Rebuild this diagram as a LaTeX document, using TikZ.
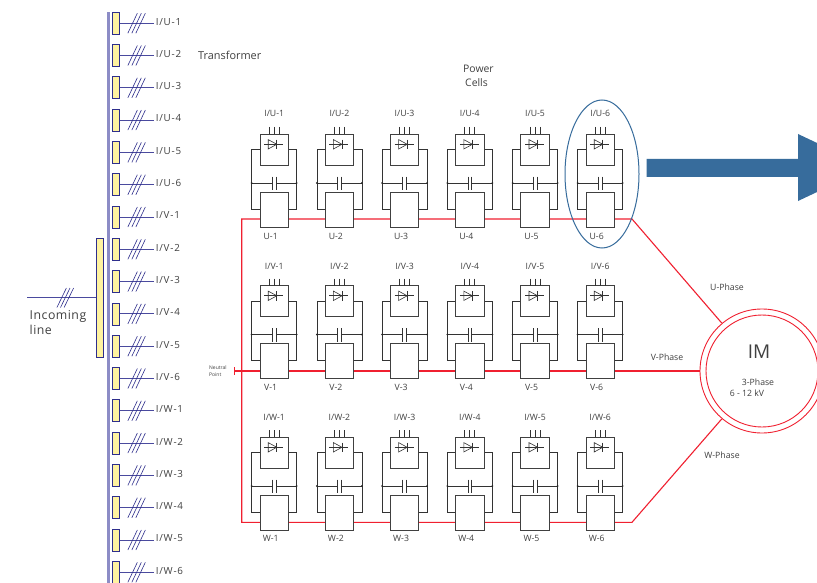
\documentclass[tikz,border=0pt]{standalone}
\usepackage{fontspec}
\setmainfont{Open Sans}
\usetikzlibrary{calc,shapes.geometric}
\definecolor{busblue}{HTML}{2E2E8C}
\definecolor{busfill}{HTML}{8C8CC6}
\definecolor{tapwire}{HTML}{4A4A9E}
\definecolor{tapfill}{HTML}{FFF3A0}
\definecolor{motorred}{HTML}{F02030}
\definecolor{arrowblue}{HTML}{376C9C}
\definecolor{txt}{HTML}{404040}
\tikzset{
  x=1pt,y=-1pt,
  lab/.style={text=txt,font=\fontsize{8.7}{10}\selectfont,inner sep=0pt},
  taplab/.style={text=txt,font=\fontsize{9.8}{10}\selectfont\addfontfeature{LetterSpace=8},inner sep=0pt,anchor=west},
  cellbox/.style={draw=black!75,line width=.9pt,fill=white,inner sep=0pt,minimum width=28.4pt},
  wire/.style={draw=black!80,line width=.8pt},
  redline/.style={draw=motorred,line width=1.1pt},
  tapbox/.style={draw=busblue,line width=.7pt,fill=tapfill,inner sep=0pt,minimum width=7pt,minimum height=22pt},
  bluewire/.style={draw=tapwire,line width=.9pt},
  hatchline/.style={draw=busblue,line width=.6pt},
}
\begin{document}
\begin{tikzpicture}
\path[use as bounding box] (0,0) rectangle (817,583);
\clip (0,0) rectangle (817,583);
\fill[white] (0,0) rectangle (817,583);
% transformer secondary bus
\node[fill=busfill,inner sep=0pt,minimum width=3.4pt,minimum height=590pt] (bus) at (108.4,307) {};
\foreach \ph [count=\p from 0] in {U,V,W}{
  \foreach \k in {1,...,6}{
    \pgfmathsetmacro{\yy}{23.2+32.3*(\p*6+\k-1)}
    \node[tapbox] (tap\ph\k) at (116,\yy) {};
    \node[taplab] (taplab\ph\k) at (155.6,\yy-1.6) {I/\ph-\k};
    \draw[bluewire,shorten >=1.6pt] (tap\ph\k.east) -- (taplab\ph\k.west |- tap\ph\k.east);
    \foreach \d in {0,4,8}{
      \draw[hatchline] ($(tap\ph\k.east)+(8+\d,10)$) -- ($(tap\ph\k.east)+(17.5+\d,-10)$);
    }
  }
}
% primary
\node[draw=busblue,line width=.7pt,fill=tapfill,inner sep=0pt,minimum width=6.8pt,minimum height=119pt] (prim) at (99.7,297.5) {};
\coordinate (inc) at (27.3,297.7);
\draw[bluewire] (inc) -- (prim.west |- inc);
\foreach \d in {-3.6,0,3.6}{
  \draw[hatchline] (60.5+\d,307.5) -- (70+\d,288);
}
\node[text=txt,font=\fontsize{12.3}{15}\selectfont\addfontfeature{LetterSpace=4},align=left,anchor=north west,inner sep=0pt] (incl) at (29.5,310) {Incoming\\line};
\node[lab,anchor=west,font=\fontsize{10.9}{11}\selectfont] (tr) at (198,55) {Transformer};
\node[lab,align=left,anchor=north west,font=\fontsize{10.4}{14}\selectfont] (pc) at (463,65) {Power\\[0pt]\hspace*{2pt}Cells};
% motor
\node[circle,draw=motorred,line width=.9pt,inner sep=0pt,minimum size=124pt] (motor) at (762,371) {};
\node[circle,draw=motorred,line width=.9pt,inner sep=0pt,minimum size=112pt] (motorin) at (762,371) {};
\node[text=txt,font=\fontsize{19}{20}\selectfont,inner sep=0pt] (im) at (759,352) {IM};
\node[lab] (tp) at (758,382) {3-Phase};
\node[lab] (kv) at (747,393) {6 - 12 kV};
\node[lab] (up) at (727,287) {U-Phase};
\node[lab] (vp) at (667,357) {V-Phase};
\node[lab] (wp) at (722,455) {W-Phase};
% phase lines
\coordinate (jU) at (241.7,219);
\coordinate (jW) at (241.7,522.3);
\coordinate (eU) at (632,219);
\coordinate (eW) at (632,522.3);
\coordinate (nt) at (234.8,371);
\draw[redline] (721.7,323) -- (eU) -- (jU) -- (jW) -- (eW) -- (721.7,419);
\draw[redline] (nt) -- (motor.west |- nt);
\draw[redline] (234.8,367) -- (234.8,375);
\node[lab,font=\fontsize{5}{7}\selectfont,align=left,anchor=west] (np) at (209,371.5) {Neutral\\Point};
% power cells
\foreach \ph/\dy/\ly/\by in {U/0/113/236,V/151.5/266/387,W/303/417/538}{
  \foreach \k in {1,...,6}{
    \pgfmathsetmacro{\cx}{274.2+65.2*(\k-1)}
    \begin{scope}[shift={(\cx,\dy)}]
      \node[lab] (cl\ph\k) at (0,\ly-\dy) {I/\ph-\k};
      \node[lab] (bl\ph\k) at (-3.5,\by-\dy) {\ph-\k};
      \coordinate (tl\ph\k) at (-22.5,149.5);
      \coordinate (tr\ph\k) at (22.5,149.5);
      \coordinate (ml\ph\k) at (-22.5,183);
      \coordinate (mr\ph\k) at (22.5,183);
      \coordinate (ll\ph\k) at (-22.5,209.2);
      \coordinate (lr\ph\k) at (22.5,209.2);
      \draw[wire] (tl\ph\k) -- (ll\ph\k) -- (lr\ph\k) -- (tr\ph\k) -- cycle;
      \draw[wire] (ml\ph\k) -- (-1.9,183) (1.9,183) -- (mr\ph\k);
      \fill[black!85] (ml\ph\k) circle (1pt) (mr\ph\k) circle (1pt);
      \draw[wire] (-1.9,176.7) -- (-1.9,190) (1.9,176.7) -- (1.9,190);
      \node[cellbox,minimum height=31pt] (pw\ph\k) at (0,149.5) {};
      \node[cellbox,minimum height=35pt] (in\ph\k) at (0,209.5) {};
      \foreach \t in {-5,0,5}{ \draw[wire] (\t,127) -- (\t,134); }
      \draw[wire] (-10,144.3) -- (9,144.3);
      \draw[wire,line width=.6pt] (-6,139.6) -- (2.6,144.3) -- (-6,149) -- cycle;
      \draw[wire] (2.6,139.6) -- (2.6,149);
    \end{scope}
  }
}
% highlight
\node[ellipse,draw=arrowblue,line width=1pt,inner sep=0pt,minimum width=74pt,minimum height=148pt] (hl) at (602,174) {};
\fill[arrowblue] (646.7,159) -- (798,159) -- (798,134) -- (869,167.5) -- (798,201) -- (798,177) -- (646.7,177) -- cycle;
\end{tikzpicture}
\end{document}
